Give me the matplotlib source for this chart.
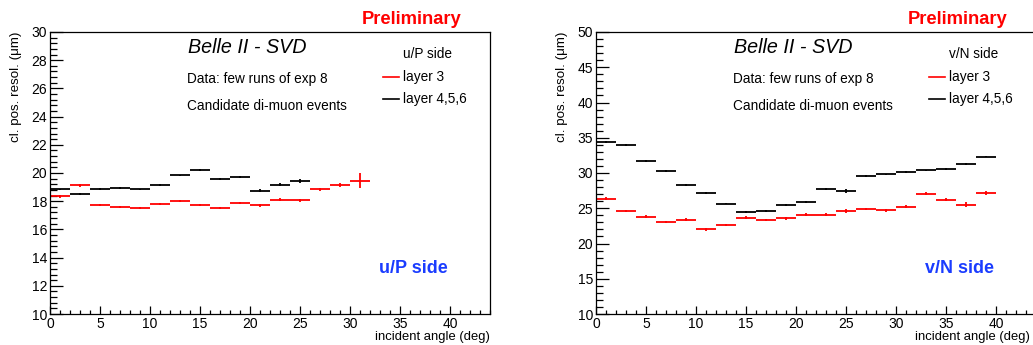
import matplotlib
matplotlib.use("Agg")
import matplotlib.pyplot as plt
import numpy as np
from matplotlib.ticker import MultipleLocator

plt.rcParams['font.family'] = ['Liberation Sans', 'DejaVu Sans']

# ---- data ----
bin_width = 2.0
u_l3 = [18.35, 19.13, 17.71, 17.59, 17.52, 17.82, 18.01, 17.73, 17.54, 17.85,
        17.71, 18.11, 18.06, 18.84, 19.13, 19.46]
u_l3_err = [0.10, 0.10, 0.08, 0.08, 0.08, 0.08, 0.08, 0.08, 0.08, 0.08,
            0.09, 0.10, 0.10, 0.12, 0.14, 0.55]
u_l456 = [18.84, 18.53, 18.87, 18.94, 18.84, 19.15, 19.83, 20.19, 19.57, 19.74,
          18.75, 19.17, 19.41]
u_l456_err = [0.06, 0.06, 0.05, 0.05, 0.05, 0.05, 0.05, 0.06, 0.06, 0.06,
              0.10, 0.12, 0.14]
v_l3 = [26.37, 24.61, 23.80, 23.04, 23.37, 22.00, 22.61, 23.66, 23.33, 23.57,
        24.09, 24.09, 24.61, 24.90, 24.71, 25.23, 27.09, 26.23, 25.51, 27.14]
v_l3_err = [0.25, 0.20, 0.18, 0.18, 0.18, 0.18, 0.18, 0.18, 0.18, 0.18,
            0.18, 0.18, 0.25, 0.20, 0.20, 0.20, 0.20, 0.25, 0.40, 0.25]
v_l456 = [34.39, 34.00, 31.71, 30.33, 28.29, 27.14, 25.66, 24.47, 24.57, 25.43,
          25.86, 27.71, 27.43, 29.57, 29.80, 30.14, 30.37, 30.61, 31.23, 32.33]
v_l456_err = [0.15, 0.12, 0.12, 0.12, 0.12, 0.12, 0.12, 0.12, 0.12, 0.12,
              0.12, 0.15, 0.25, 0.12, 0.12, 0.12, 0.12, 0.12, 0.15, 0.12]

W, H = 1033, 345
fig = plt.figure(figsize=(W / 100, H / 100), dpi=100)


def fx(px):
    return px / W


def fy(py):
    return 1 - py / H


def panel(x0, ylim, ymaj, ymin, red, red_err, blk, blk_err, side, xlab_right):
    ax = fig.add_axes([fx(x0), fy(314), fx(440), 282 / H])
    ax.set_xlim(0, 44)
    ax.set_ylim(*ylim)
    for vals, errs, col in ((blk, blk_err, 'black'), (red, red_err, 'red')):
        x = np.arange(len(vals)) * bin_width + bin_width / 2
        ax.errorbar(x, vals, xerr=bin_width / 2, yerr=errs, fmt='none',
                    ecolor=col, elinewidth=1.3, capsize=0)
    ax.xaxis.set_major_locator(MultipleLocator(5))
    ax.xaxis.set_minor_locator(MultipleLocator(1))
    ax.yaxis.set_major_locator(MultipleLocator(ymaj))
    ax.yaxis.set_minor_locator(MultipleLocator(ymin))
    ax.tick_params(axis='both', which='both', direction='in', top=False,
                   right=False, labelsize=10, width=0.9)
    ax.tick_params(axis='x', which='major', length=6, pad=2.5)
    ax.tick_params(axis='x', which='minor', length=3)
    ax.tick_params(axis='y', which='major', length=9.5, pad=2)
    ax.tick_params(axis='y', which='minor', length=4.7)
    xt = list(range(0, 45, 5))
    ax.set_xticks(xt)
    ax.set_xticklabels([str(t) for t in xt])
    for s in ax.spines.values():
        s.set_linewidth(0.9)
    # texts
    fig.text(fx(x0 + 312), fy(19), 'Preliminary', color='red',
             fontweight='bold', fontsize=13.2, va='center', ha='left')
    fig.text(fx(x0 + 138), fy(53), 'Belle II - SVD', fontstyle='italic',
             fontsize=14.2, va='baseline', ha='left')
    fig.text(fx(x0 + 137), fy(83), 'Data: few runs of exp 8', fontsize=9.8,
             va='baseline', ha='left')
    fig.text(fx(x0 + 137), fy(110), 'Candidate di-muon events', fontsize=9.8,
             va='baseline', ha='left')
    fig.text(fx(x0 + 353), fy(58), side + ' side', fontsize=9.8,
             va='baseline', ha='left')
    fig.text(fx(x0 + 353), fy(81), 'layer 3', fontsize=9.8,
             va='baseline', ha='left')
    fig.text(fx(x0 + 353), fy(103), 'layer 4,5,6', fontsize=9.8,
             va='baseline', ha='left')
    fig.add_artist(plt.Line2D([fx(x0 + 333), fx(x0 + 349)], [fy(76.7), fy(76.7)],
                              color='red', lw=1.2))
    fig.add_artist(plt.Line2D([fx(x0 + 333), fx(x0 + 349)], [fy(98.7), fy(98.7)],
                              color='black', lw=1.2))
    fig.text(fx(x0 + 329), fy(273), side + ' side', color='#1a3cff',
             fontweight='bold', fontsize=13, va='baseline', ha='left')
    fig.text(fx(xlab_right), fy(337), 'incident angle (deg)', fontsize=9.4,
             va='center', ha='right')
    fig.text(fx(x0 - 34), fy(32), 'cl. pos. resol. (\u03bcm)', fontsize=9.6,
             rotation=90, va='top', ha='center')
    return ax


panel(50, (10, 30), 2, 0.4, u_l3, u_l3_err, u_l456, u_l456_err, 'u/P', 490)
panel(596, (10, 50), 5, 1, v_l3, v_l3_err, v_l456, v_l456_err, 'v/N', 1030)

fig.savefig('out.png', dpi=100)
